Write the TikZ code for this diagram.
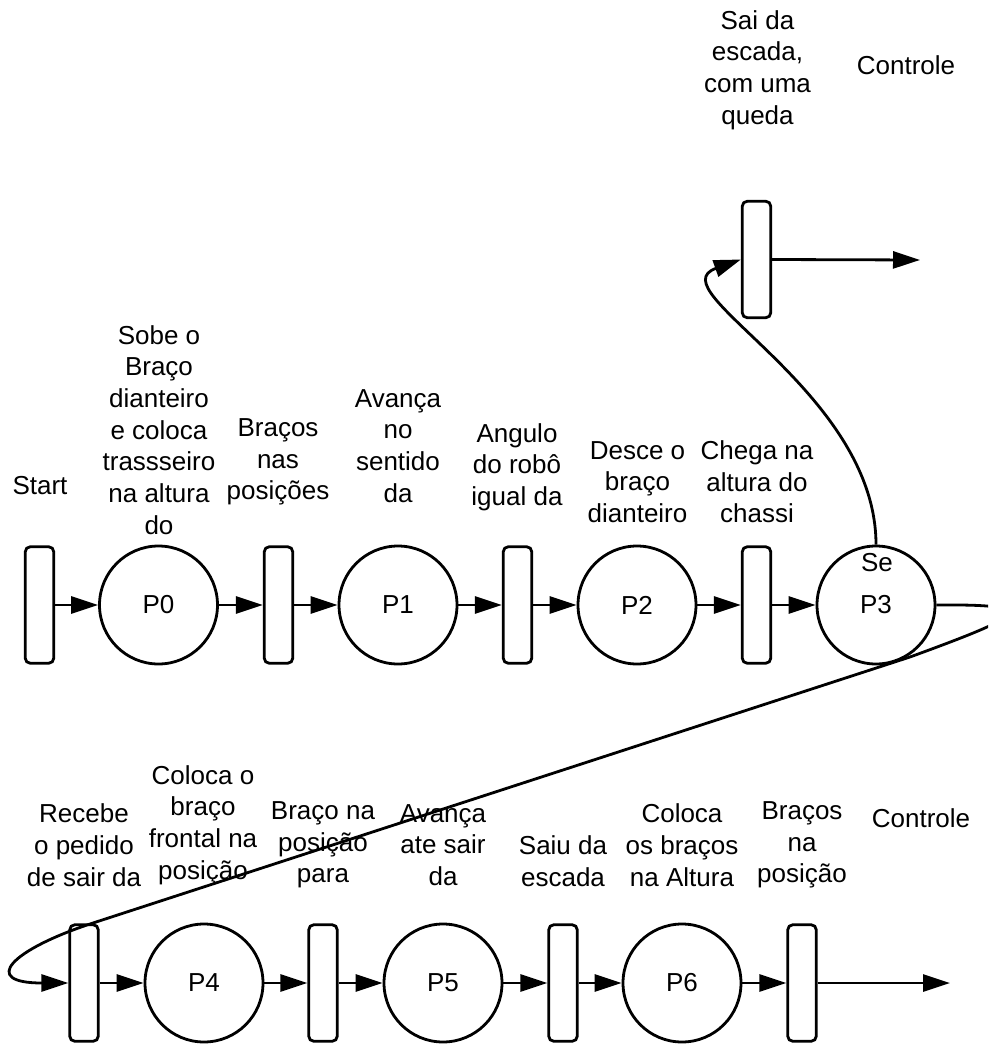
\documentclass[tikz,border=0pt]{standalone}
\usepackage{fontspec}
\setmainfont{Liberation Sans}
\usetikzlibrary{arrows.meta}
\begin{document}
\begin{tikzpicture}[x=1pt,y=-1pt,
  trans/.style={draw, rectangle, rounded corners=5pt, minimum width=28.5pt, minimum height=116.5pt, inner sep=0pt, line width=2.8pt, fill=white},
  place/.style={draw, circle, minimum size=118pt, inner sep=0pt, line width=2.8pt, fill=white, font=\fontsize{26pt}{31.7pt}\selectfont},
  lbl/.style={align=center, inner sep=0pt, font=\fontsize{26pt}{31.7pt}\selectfont},
  conn/.style={line width=2.8pt, -{Triangle[length=27pt,width=17pt]}},
]
\useasboundingbox (0,0) rectangle (988,1046);
\clip (0,0) rectangle (988,1046);

% upper row
\node[trans] (S)  at (39.5,605) {};
\node[place] (P0) at (158.5,605) {P0};
\node[trans] (T1) at (278.5,605) {};
\node[place] (P1) at (398,605) {P1};
\node[trans] (T2) at (517.5,605) {};
\node[place] (P2) at (637,605) {P2};
\node[trans] (T3) at (756.5,605) {};
\node[place] (P3) at (876,605) {P3};
\node[trans] (TQ) at (756.5,259.5) {};

% lower row
\node[trans] (L0) at (84,983) {};
\node[place] (P4) at (204,983) {P4};
\node[trans] (L1) at (323,983) {};
\node[place] (P5) at (443,983) {P5};
\node[trans] (L2) at (563,983) {};
\node[place] (P6) at (682,983) {P6};
\node[trans] (L3) at (802,983) {};

\coordinate (endQ) at (920,260);
\coordinate (endL) at (950,983);
\coordinate (bendR) at (910,657);
\coordinate (bendL) at (93,923);

% labels upper
\node[lbl] (lS)  at (40,486) {Start};
\node[lbl] (l0)  at (159,430) {Sobe o\\Braço\\dianteiro\\e coloca\\trassseiro\\na altura\\do};
\node[lbl] (l1)  at (278,462) {Braços\\nas\\posições};
\node[lbl] (l2)  at (398,446) {Avança\\no\\sentido\\da};
\node[lbl] (l3)  at (517,467) {Angulo\\do robô\\igual da};
\node[lbl] (l4)  at (637.5,482) {Desce o\\braço\\dianteiro};
\node[lbl] (l5)  at (757,482) {Chega na\\altura do\\chassi};
\node[lbl] (lSe) at (877,563) {Se};
\node[lbl] (lQ)  at (757.5,70) {Sai da\\escada,\\com uma\\queda};
\node[lbl] (lC1) at (906,65) {Controle};

% labels lower
\node[lbl] (m0) at (84,845) {Recebe\\o pedido\\de sair da};
\node[lbl] (m1) at (203,825) {Coloca o\\braço\\frontal na\\posição};
\node[lbl] (m2) at (323,845) {Braço na\\posição\\para};
\node[lbl] (m3) at (443,845) {Avança\\ate sair\\da};
\node[lbl] (m4) at (563,861) {Saiu da\\escada};
\node[lbl] (m5) at (682,845) {Coloca\\os braços\\na Altura};
\node[lbl] (m6) at (802,845) {Braços\\na\\posição};
\node[lbl] (lC2) at (921,818) {Controle};

% connectors upper
\draw[conn] (S.east) -- (P0);
\draw[conn] (P0) -- (T1.west);
\draw[conn] (T1.east) -- (P1);
\draw[conn] (P1) -- (T2.west);
\draw[conn] (T2.east) -- (P2);
\draw[conn] (P2) -- (T3.west);
\draw[conn] (T3.east) -- (P3);
\draw[conn] (P3.north) .. controls (876,390) and (655,290) .. (TQ.west);
\draw[conn] (TQ.east) -- (endQ);

% long S connector from P3 to the lower row
\draw[conn, line join=round] (P3.east) .. controls (1045,604) and (1025,615) .. (bendR)
  -- (bendL) .. controls (10,950) and (-20,983) .. (L0.west);

% connectors lower
\draw[conn] (L0.east) -- (P4);
\draw[conn] (P4) -- (L1.west);
\draw[conn] (L1.east) -- (P5);
\draw[conn] (P5) -- (L2.west);
\draw[conn] (L2.east) -- (P6);
\draw[conn] (P6) -- (L3.west);
\draw[conn] (L3.east) -- (endL);
\end{tikzpicture}
\end{document}
